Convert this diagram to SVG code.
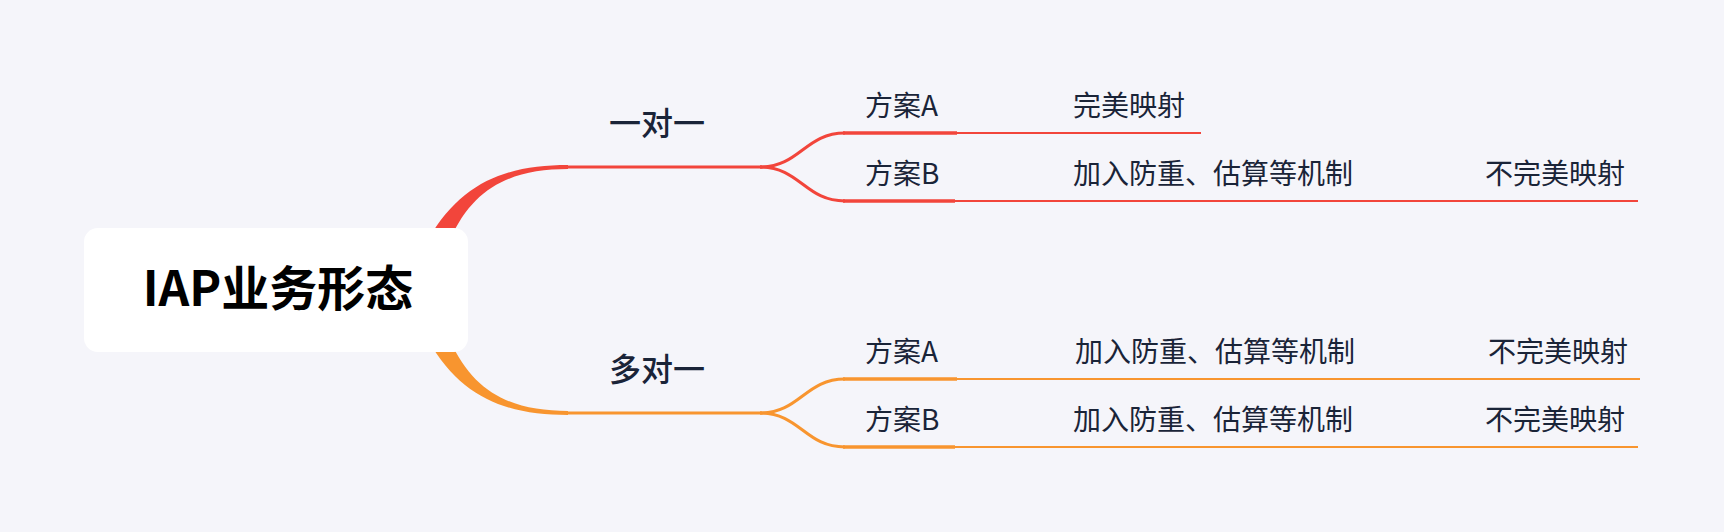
<svg xmlns="http://www.w3.org/2000/svg" width="1724" height="532" viewBox="0 0 1724 532">
<style>
.t{font-family:"Noto Sans CJK SC","Noto Sans",sans-serif;fill:#1a2438;font-size:28px}
.m{font-size:32px;font-weight:500;text-anchor:middle}
.root{font-family:"Noto Sans CJK SC","Noto Sans",sans-serif;font-size:48px;font-weight:700;fill:#000;text-anchor:middle}
.r{stroke:#f2453b;fill:none}
.o{stroke:#f8952f;fill:none}
.thick{stroke-width:3.5}
.mid{stroke-width:3}
.thin{stroke-width:1.8}
</style>
<rect width="1724" height="532" fill="#f5f5fa"/>
<g id="connectors">
  <path d="M428 240 C462 180 510 165 568 165 L568 169 C515 169 474 185 450 240 Z" fill="#f2453b"/>
  <path d="M428 340 C462 400 510 415 568 415 L568 411 C515 411 474 395 450 340 Z" fill="#f8952f"/>
  <path class="r mid" d="M566 167 H762"/>
  <path class="r mid" d="M760 167 C800 167 805 133 845 133"/>
  <path class="r mid" d="M760 167 C800 167 805 201 845 201"/>
  <path class="o mid" d="M566 413 H762"/>
  <path class="o mid" d="M760 413 C800 413 805 379 845 379"/>
  <path class="o mid" d="M760 413 C800 413 805 447 845 447"/>
  <path class="r thin" d="M957 133 H1060"/>
  <path class="r thin" d="M955 201 H1060"/>
  <path class="r thin" d="M1367 201 H1471"/>
  <path class="o thin" d="M957 379 H1060"/>
  <path class="o thin" d="M955 447 H1060"/>
  <path class="o thin" d="M1367 379 H1471"/>
  <path class="o thin" d="M1367 447 H1471"/>
</g>
<g id="root">
  <rect x="84" y="228" width="384" height="124" rx="14" fill="#ffffff"/>
  <text class="root" x="278" y="306">IAP业务形态</text>
</g>
<g id="n-one2one"><text class="t m" x="657" y="135">一对一</text></g>
<g id="n-many2one"><text class="t m" x="657" y="381">多对一</text></g>
<g id="n1A"><path class="r thick" d="M843 133 H957"/><text class="t" x="865" y="116">方案A</text></g>
<g id="n1A1"><path class="r thin" d="M1060 133 H1201"/><text class="t" x="1073" y="116">完美映射</text></g>
<g id="n1B"><path class="r thick" d="M843 201 H955"/><text class="t" x="865" y="184">方案B</text></g>
<g id="n1B1"><path class="r thin" d="M1060 201 H1367"/><text class="t" x="1073" y="184">加入防重、估算等机制</text></g>
<g id="n1B2"><path class="r thin" d="M1471 201 H1638"/><text class="t" x="1485" y="184">不完美映射</text></g>
<g id="n2A"><path class="o thick" d="M843 379 H957"/><text class="t" x="865" y="362">方案A</text></g>
<g id="n2A1"><path class="o thin" d="M1060 379 H1367"/><text class="t" x="1075" y="362">加入防重、估算等机制</text></g>
<g id="n2A2"><path class="o thin" d="M1471 379 H1640"/><text class="t" x="1488" y="362">不完美映射</text></g>
<g id="n2B"><path class="o thick" d="M843 447 H955"/><text class="t" x="865" y="430">方案B</text></g>
<g id="n2B1"><path class="o thin" d="M1060 447 H1367"/><text class="t" x="1073" y="430">加入防重、估算等机制</text></g>
<g id="n2B2"><path class="o thin" d="M1471 447 H1638"/><text class="t" x="1485" y="430">不完美映射</text></g>
</svg>
